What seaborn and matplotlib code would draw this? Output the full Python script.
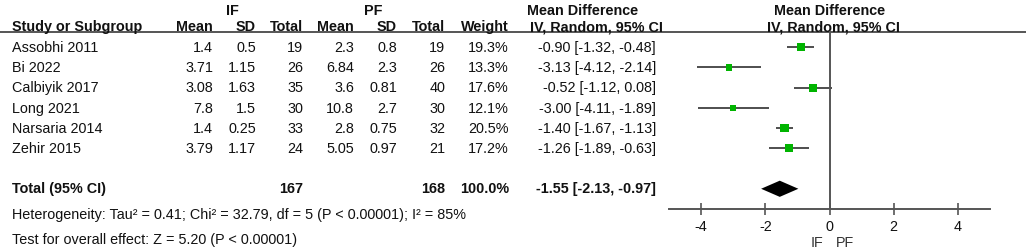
import matplotlib
matplotlib.use("Agg")
import matplotlib.pyplot as plt
import seaborn as sns
import pandas as pd

sns.set_theme(style="white")
plt.rcParams['font.family'] = ['Liberation Sans', 'DejaVu Sans']

# dados do forest plot
studies = ["Assobhi 2011", "Bi 2022", "Calbiyik 2017", "Long 2021", "Narsaria 2014", "Zehir 2015"]
if_mean = [1.4, 3.71, 3.08, 7.8, 1.4, 3.79]
if_sd = [0.5, 1.15, 1.63, 1.5, 0.25, 1.17]
if_n = [19, 26, 35, 30, 33, 24]
pf_mean = [2.3, 6.84, 3.6, 10.8, 2.8, 5.05]
pf_sd = [0.8, 2.3, 0.81, 2.7, 0.75, 0.97]
pf_n = [19, 26, 40, 30, 32, 21]
weight = [19.3, 13.3, 17.6, 12.1, 20.5, 17.2]
md = [-0.90, -3.13, -0.52, -3.00, -1.40, -1.26]
md_lo = [-1.32, -4.12, -1.12, -4.11, -1.67, -1.89]
md_hi = [-0.48, -2.14, 0.08, -1.89, -1.13, -0.63]

total_if = 167
total_pf = 168
total_weight = 100.0
total_md, total_lo, total_hi = -1.55, -2.13, -0.97

het_text = "Heterogeneity: Tau\u00b2 = 0.41; Chi\u00b2 = 32.79, df = 5 (P < 0.00001); I\u00b2 = 85%"
effect_text = "Test for overall effect: Z = 5.20 (P < 0.00001)"
xticks = [-4, -2, 0, 2, 4]

df = pd.DataFrame({"study": studies, "md": md, "lo": md_lo, "hi": md_hi,
                   "weight": weight, "row": range(len(studies))})

W, H = 1026, 251
fig = plt.figure(figsize=(W / 100, H / 100), dpi=100)
fig.patch.set_facecolor("white")

# eixo de fundo em pixels para a tabela
bg = fig.add_axes([0, 0, 1, 1])
bg.set_xlim(0, W)
bg.set_ylim(H, 0)
bg.axis("off")

fs = 10.4
txt = "#111111"
line_col = "#555555"

# cabecalhos
bg.text(232, 11, "IF", ha="center", va="center", fontsize=fs, fontweight="bold", color=txt)
bg.text(373, 11, "PF", ha="center", va="center", fontsize=fs, fontweight="bold", color=txt)
bg.text(583, 11, "Mean Difference", ha="center", va="center", fontsize=fs, fontweight="bold", color=txt)
bg.text(830, 11, "Mean Difference", ha="center", va="center", fontsize=fs, fontweight="bold", color=txt)
bg.text(12, 27, "Study or Subgroup", ha="left", va="center", fontsize=fs, fontweight="bold", color=txt)
cols_r = [213, 256, 303, 354, 397, 445, 509]
for x, lab in zip(cols_r, ["Mean", "SD", "Total", "Mean", "SD", "Total", "Weight"]):
    bg.text(x, 27, lab, ha="right", va="center", fontsize=fs, fontweight="bold", color=txt)
bg.text(596, 27, "IV, Random, 95% CI", ha="center", va="center", fontsize=fs, fontweight="bold", color=txt)
bg.text(833, 27, "IV, Random, 95% CI", ha="center", va="center", fontsize=fs, fontweight="bold", color=txt)
bg.plot([0, W], [32.5, 32.5], color=line_col, lw=1.4, solid_capstyle="butt")

# linhas dos estudos
y0, dy = 48, 20.2
for i in range(len(studies)):
    y = y0 + i * dy
    vals = [f"{if_mean[i]:g}", f"{if_sd[i]:g}", f"{if_n[i]}",
            f"{pf_mean[i]:g}", f"{pf_sd[i]:g}", f"{pf_n[i]}", f"{weight[i]:.1f}%"]
    bg.text(12, y, studies[i], ha="left", va="center", fontsize=fs, color=txt)
    for x, v in zip(cols_r, vals):
        bg.text(x, y, v, ha="right", va="center", fontsize=fs, color=txt)
    bg.text(656, y, f"{md[i]:.2f} [{md_lo[i]:.2f}, {md_hi[i]:.2f}]",
            ha="right", va="center", fontsize=fs, color=txt)

# total
yt = y0 + 7 * dy
bg.text(12, yt, "Total (95% CI)", ha="left", va="center", fontsize=fs, fontweight="bold", color=txt)
bg.text(303, yt, f"{total_if}", ha="right", va="center", fontsize=fs, fontweight="bold", color=txt)
bg.text(445, yt, f"{total_pf}", ha="right", va="center", fontsize=fs, fontweight="bold", color=txt)
bg.text(509, yt, f"{total_weight:.1f}%", ha="right", va="center", fontsize=fs, fontweight="bold", color=txt)
bg.text(656, yt, f"{total_md:.2f} [{total_lo:.2f}, {total_hi:.2f}]",
        ha="right", va="center", fontsize=fs, fontweight="bold", color=txt)
bg.text(12, 215, het_text, ha="left", va="center", fontsize=fs, color=txt)
bg.text(12, 240, effect_text, ha="left", va="center", fontsize=fs, color=txt)
bg.text(817, 243, "IF", ha="center", va="center", fontsize=fs, color="#333333")
bg.text(845, 243, "PF", ha="center", va="center", fontsize=fs, color="#333333")

# forest plot
ax = fig.add_axes([669 / W, 1 - 210 / H, (990 - 669) / W, (210 - 32) / H])
ax.set_facecolor("none")
ax.hlines(df["row"], df["lo"], df["hi"], color="#404040", lw=1.3, zorder=1)
sns.scatterplot(data=df, x="md", y="row", size="weight", sizes=(12.1 * 1.8, 20.5 * 1.8),
                size_norm=(12.1, 20.5), marker="s", color="#00b400", linewidth=0,
                legend=False, ax=ax, zorder=3)
ax.fill([total_lo, total_md, total_hi, total_md], [7, 6.6, 7, 7.4],
        color="black", lw=0, zorder=3)
ax.axvline(0, color=line_col, lw=1.4, zorder=2)
ax.set_xlim(-5, 5)
ax.set_ylim(8, -0.8)
ax.set_xticks(xticks)
ax.set_xticklabels([str(t) for t in xticks])
ax.set_yticks([])
ax.set_xlabel("")
ax.set_ylabel("")
for s in ["top", "left", "right"]:
    ax.spines[s].set_visible(False)
ax.spines["bottom"].set_color(line_col)
ax.spines["bottom"].set_linewidth(1.4)
ax.tick_params(axis="x", direction="inout", length=9, width=1.2, color=line_col,
               labelsize=fs, labelcolor=txt, pad=3, bottom=True)

fig.savefig("out.png", dpi=100, facecolor="white")
